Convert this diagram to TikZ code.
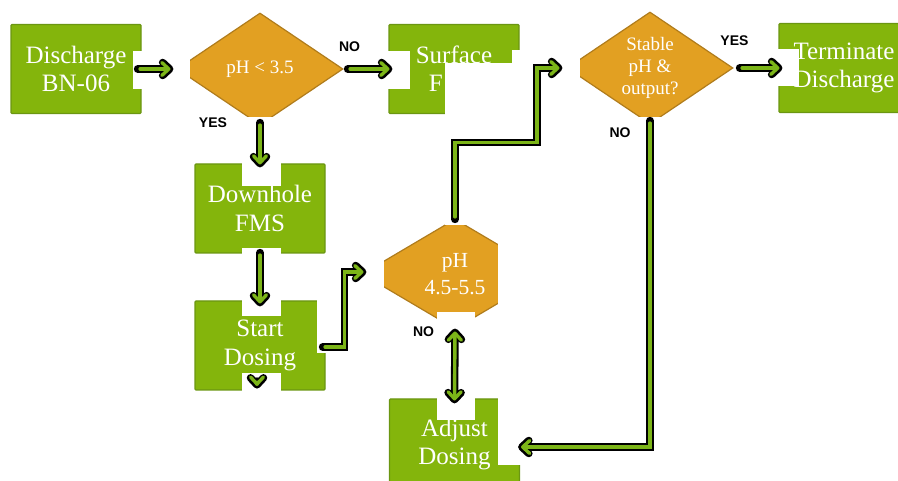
\documentclass[tikz,border=0pt]{standalone}
\usepackage{fontspec}
\setsansfont{Liberation Sans}
\newfontfamily\boxfont{Liberation Serif}
\usepackage{tikz}
\usetikzlibrary{shapes.geometric}
\usetikzlibrary{arrows.meta}
\definecolor{boxgreen}{HTML}{84B50C}
\definecolor{boxedge}{HTML}{6B9612}
\definecolor{deciorange}{HTML}{E2A022}
\definecolor{deciedge}{HTML}{B07C1C}
\definecolor{linkgreen}{HTML}{7CB518}

\begin{document}
\begin{tikzpicture}[x=1pt, y=-1pt,
every node/.style = {align=center, text=white},
stepbox/.style = {shape=rectangle, draw=boxedge, fill=boxgreen, line width=1.2pt,
  rounded corners=1pt, minimum width=130pt, minimum height=89pt,
  font=\fontsize{25}{28.5}\selectfont\boxfont},
decision/.style = {shape=diamond, draw=deciedge, fill=deciorange, line width=1.2pt,
  inner sep=0pt, shape aspect=1.48, minimum width=166pt, minimum height=112pt,
  font=\fontsize{19}{22}\selectfont\boxfont},
answer/.style = {text=black, inner sep=0pt, font=\fontsize{14}{14}\selectfont\sffamily\bfseries},
mask/.style = {fill=white},
link/.style = {draw=black, line width=7.5pt, line cap=round,
  -{Straight Barb[length=7pt, width=13pt, round]},
  postaction = {draw=linkgreen, line width=3.4pt, shorten >=2.9pt, shorten <=2.5pt,
    -{Straight Barb[length=7pt, width=13pt, round]}}},
twolink/.style = {draw=black, line width=7.5pt,
  {Straight Barb[length=7pt, width=13pt, round]}-{Straight Barb[length=7pt, width=13pt, round]},
  postaction = {draw=linkgreen, line width=3.4pt, shorten >=2.9pt, shorten <=2.9pt,
    {Straight Barb[length=7pt, width=13pt, round]}-{Straight Barb[length=7pt, width=13pt, round]}}}
]
\useasboundingbox (0,0) rectangle (898,481);
\clip (0,0) rectangle (898,481);

\node[stepbox] (discharge) at (76,69) {Discharge\\BN-06};
\node[decision] (lowph) at (260,69) {pH < 3.5};
\node[stepbox] (surface) at (454,69) {Surface\\F\phantom{MS}};
\node[decision] (stable) at (650,68) {Stable\\pH \&\\output?};
\node[stepbox] (terminate) at (844,68) {Terminate\\Discharge};
\node[stepbox] (downhole) at (260,208.5) {Downhole\\FMS};
\node[stepbox] (startdose) at (260,345.5) {Start\\Dosing};
\node[decision, minimum width=186pt, minimum height=110pt,
  font=\fontsize{21.5}{27}\selectfont\boxfont] (phrange) at (455,274) {pH\\4.5-5.5};
\node[stepbox, minimum height=91pt] (adjust) at (454.5,444.5) {Adjust\\Dosing};

% white backs of the connectors
\fill[mask] (133,51) rectangle (190,89);
\fill[mask] (344,51) rectangle (410,89);
\fill[mask] (242,117) rectangle (281,186);
\fill[mask] (242,248) rectangle (281,316);
\fill[mask] (317,258) rectangle (384,353);
\fill[mask] (242,373) rectangle (281,392);
\fill[mask] (445,63) rectangle (545,225);
\fill[mask] (512,50) rectangle (580,86);
\fill[mask] (735,49) rectangle (799,86);
\fill[mask] (498,117) rectangle (665,465);
\fill[mask] (437,312) rectangle (475,420);

\node[answer] (yes1) at (213,123) {YES};
\node[answer] (no1) at (349.5,46.5) {NO};
\node[answer] (yes2) at (734.5,40.5) {YES};
\node[answer] (no2) at (620,133) {NO};
\node[answer] (no3) at (423.5,331.5) {NO};

\draw[link] ([xshift=-4pt]discharge.east) -- ([xshift=-3pt]lowph.west);
\draw[link] ([xshift=4pt]lowph.east) -- ([xshift=4pt]surface.west);
\draw[link] ([xshift=6pt]stable.east) -- ([xshift=4pt]terminate.west);
\draw[link] ([yshift=3pt]lowph.south) -- ([yshift=-4pt]downhole.north);
\draw[link] ([yshift=1pt]downhole.south) -- ([yshift=-6pt]startdose.north);
\draw[link] ([xshift=-3pt,yshift=-1.5pt]startdose.east) -- ++(22,0)
  |- ([xshift=5pt,yshift=2pt]phrange.west);
\draw[link] ([yshift=-1pt]phrange.north) -- ++(0,-77) -- ++(82,0)
  |- ([xshift=-4pt]stable.west);
\draw[link] ([yshift=4pt]stable.south) |- ([xshift=-2pt,yshift=-2.5pt]adjust.east);
\draw[twolink] ([yshift=1pt]phrange.south) -- ([yshift=-5pt]adjust.north);
\coordinate (stub) at ([xshift=-3pt,yshift=9pt]startdose.south);
\draw[link] (stub) -- ([xshift=-3pt,yshift=2pt]startdose.south);

\end{tikzpicture}
\end{document}
